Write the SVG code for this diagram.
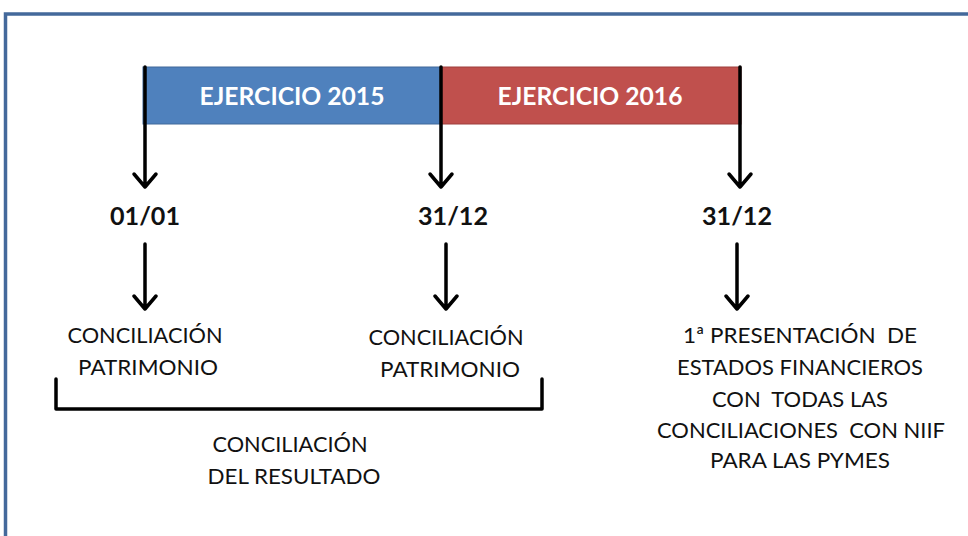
<svg xmlns="http://www.w3.org/2000/svg" width="968" height="536" viewBox="0 0 968 536">
<style>
.t{font-family:Lato,"Open Sans","Liberation Sans",sans-serif;font-size:22px;fill:#111;text-anchor:middle}
.b{font-family:Lato,"Open Sans","Liberation Sans",sans-serif;font-size:24px;font-weight:bold;fill:#111;text-anchor:middle}
.w{font-family:Lato,"Open Sans","Liberation Sans",sans-serif;font-size:25px;font-weight:bold;fill:#fff;text-anchor:middle}
.ln{stroke:#000;stroke-width:3.5;fill:none;stroke-linecap:round;stroke-linejoin:round}
</style>
<rect width="968" height="536" fill="#fff"/>
<rect x="5.5" y="14" width="1000" height="600" fill="none" stroke="#44699b" stroke-width="3.5"/>
<g id="ej2015">
<rect x="143" y="67" width="298" height="57" fill="#4f81bd" stroke="#40699a" stroke-width="1"/>
<text class="w" x="292" y="105" textLength="185" lengthAdjust="spacingAndGlyphs">EJERCICIO 2015</text>
</g>
<g id="ej2016">
<rect x="441" y="67" width="300" height="57" fill="#c0504d" stroke="#9e3f3c" stroke-width="1"/>
<text class="w" x="590" y="105" textLength="185" lengthAdjust="spacingAndGlyphs">EJERCICIO 2016</text>
</g>
<g id="connectors">
<path class="ln" d="M145 67V186M134 174L145 187L156 174"/>
<path class="ln" d="M441 67V186M430 174L441 187L452 174"/>
<path class="ln" d="M740 67V186M729 174L740 187L751 174"/>
<path class="ln" d="M145 244V309M134 296L145 309L156 296"/>
<path class="ln" d="M446 244V309M435 296L446 309L457 296"/>
<path class="ln" d="M737 244V309M726 296L737 309L748 296"/>
<path class="ln" d="M56 379V409H542V379"/>
</g>
<g id="d1"><text class="b" x="145" y="225" textLength="70" lengthAdjust="spacingAndGlyphs">01/01</text></g>
<g id="d2"><text class="b" x="453" y="225" textLength="70" lengthAdjust="spacingAndGlyphs">31/12</text></g>
<g id="d3"><text class="b" x="737" y="225" textLength="70" lengthAdjust="spacingAndGlyphs">31/12</text></g>
<g id="cp1">
<text class="t" x="145" y="343" textLength="155" lengthAdjust="spacingAndGlyphs">CONCILIACIÓN</text>
<text class="t" x="148" y="375" textLength="140" lengthAdjust="spacingAndGlyphs">PATRIMONIO</text>
</g>
<g id="cp2">
<text class="t" x="446" y="345" textLength="155" lengthAdjust="spacingAndGlyphs">CONCILIACIÓN</text>
<text class="t" x="450" y="377" textLength="140" lengthAdjust="spacingAndGlyphs">PATRIMONIO</text>
</g>
<g id="cr">
<text class="t" x="290" y="452" textLength="155" lengthAdjust="spacingAndGlyphs">CONCILIACIÓN</text>
<text class="t" x="294" y="484" textLength="173" lengthAdjust="spacingAndGlyphs">DEL RESULTADO</text>
</g>
<g id="pres">
<text class="t" x="800" y="343" textLength="234" lengthAdjust="spacingAndGlyphs" xml:space="preserve">1ª PRESENTACIÓN  DE</text>
<text class="t" x="800" y="375" textLength="246" lengthAdjust="spacingAndGlyphs">ESTADOS FINANCIEROS</text>
<text class="t" x="800" y="407" textLength="176" lengthAdjust="spacingAndGlyphs" xml:space="preserve">CON  TODAS LAS</text>
<text class="t" x="801" y="438" textLength="288" lengthAdjust="spacingAndGlyphs" xml:space="preserve">CONCILIACIONES  CON NIIF</text>
<text class="t" x="800" y="468" textLength="180" lengthAdjust="spacingAndGlyphs">PARA LAS PYMES</text>
</g>
</svg>
